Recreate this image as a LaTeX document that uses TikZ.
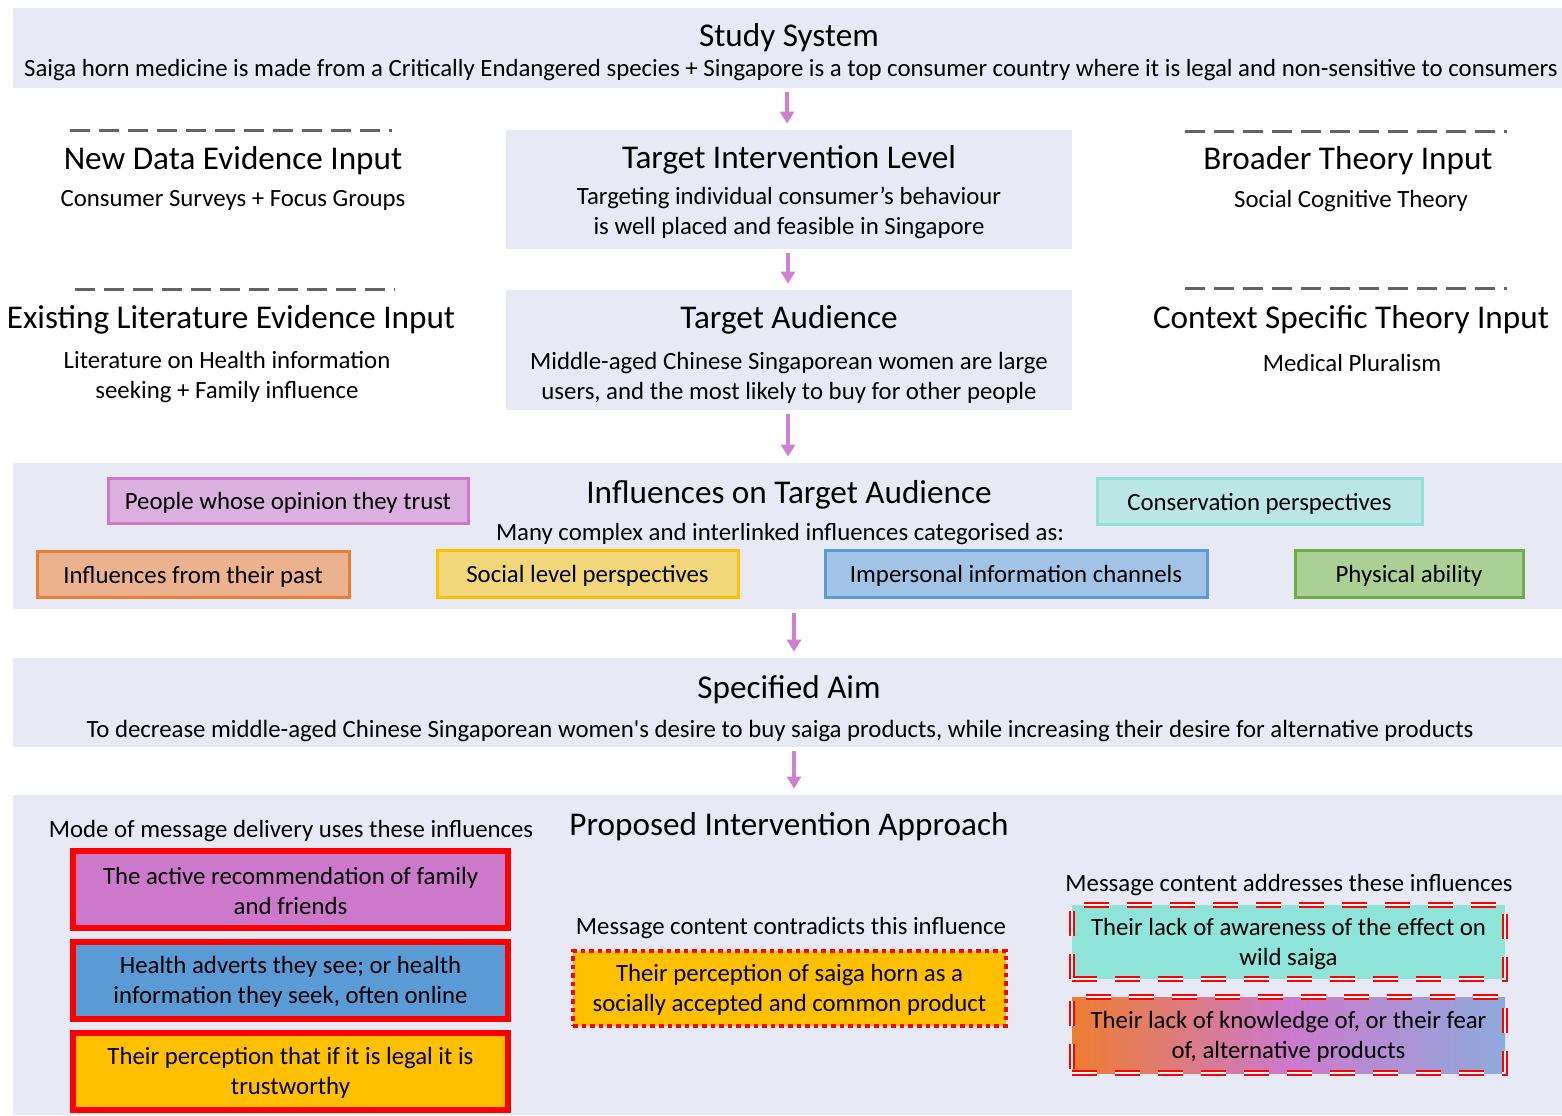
\documentclass[tikz,border=0pt]{standalone}
\usepackage{fontspec}
\setmainfont{Carlito}[Ligatures=TeXOff]
\usetikzlibrary{fit,arrows.meta}
\definecolor{bandfill}{RGB}{231,234,245}
\definecolor{arrowc}{RGB}{208,128,208}
\definecolor{dashg}{RGB}{100,100,100}
\definecolor{purpF}{RGB}{218,176,222}
\definecolor{purpD}{RGB}{204,121,204}
\definecolor{tealF}{RGB}{186,230,230}
\definecolor{tealD}{RGB}{143,224,214}
\definecolor{orF}{RGB}{235,178,144}
\definecolor{orD}{RGB}{237,125,49}
\definecolor{yeF}{RGB}{242,214,122}
\definecolor{yeD}{RGB}{255,192,0}
\definecolor{blF}{RGB}{160,195,230}
\definecolor{blD}{RGB}{91,155,213}
\definecolor{grF}{RGB}{170,208,150}
\definecolor{grD}{RGB}{112,173,71}
\definecolor{mintF}{RGB}{142,228,217}
\definecolor{periw}{RGB}{143,170,220}
\tikzset{
  band/.style={fill=bandfill, draw=none, inner sep=0pt},
  ttl/.style={font=\fontsize{16.6}{19}\selectfont, inner sep=0pt, align=center, yshift=-1pt},
  sub/.style={font=\fontsize{12.4}{15}\selectfont, inner sep=0pt, align=center, yshift=-1pt},
  btxt/.style={font=\fontsize{12.4}{15}\selectfont, inner sep=0pt, align=center, yshift=-0.8pt},
  itxt/.style={font=\fontsize{12.4}{15}\selectfont, inner sep=0pt, align=center, yshift=-1.4pt},
  arr/.style={draw=arrowc, line width=1.6pt, -{Triangle[width=7pt,length=6pt]}, shorten >=3pt, shorten <=2pt},
  dline/.style={draw=dashg, line width=1.5pt, dash pattern=on 10pt off 4.5pt},
  infl/.style={line width=1.5pt, inner sep=0pt},
  solidred/.style={draw=red, line width=2.7pt, inner sep=0pt},
  dotred/.style={draw=red, line width=2.4pt, dash pattern=on 2.3pt off 2pt, inner sep=0pt},
  dblred/.style={draw=red, line width=0.9pt, double=white, double distance=0.9pt, dash pattern=on 12.5pt off 9pt, inner sep=0pt},
}
\begin{document}
\begin{tikzpicture}[x=0.5pt,y=-0.5pt]
\useasboundingbox (0,0) rectangle (1562,1115);
% ---- top band
\node[band, fit={(13,8) (1562,88)}] (top) {};
\node[ttl] (studyT) at (789,36) {Study System};
\node[sub] (studyS) at (791,68) {Saiga horn medicine is made from a Critically Endangered species + Singapore is a top consumer country where it is legal and non-sensitive to consumers};
% ---- row 1
\coordinate (d1a) at (70,130); \coordinate (d1b) at (392,130);
\draw[dline] (d1a) -- (d1b);
\node[ttl] (newT) at (233,159) {New Data Evidence Input};
\node[sub] (newS) at (233,198) {Consumer Surveys + Focus Groups};
\node[band, fit={(506,130) (1072,249)}] (til) {};
\node[ttl] (tilT) at (789,158) {Target Intervention Level};
\node[sub] (tilS) at (789,211) {Targeting individual consumer’s behaviour\\is well placed and feasible in Singapore};
\coordinate (d2a) at (1185,131); \coordinate (d2b) at (1507,131);
\draw[dline] (d2a) -- (d2b);
\node[ttl] (broT) at (1348,159) {Broader Theory Input};
\node[sub] (broS) at (1351,199) {Social Cognitive Theory};
% ---- row 2
\coordinate (d3a) at (75,289); \coordinate (d3b) at (395,289);
\draw[dline] (d3a) -- (d3b);
\node[ttl] (litT) at (231,318) {Existing Literature Evidence Input};
\node[sub] (litS) at (227,375) {Literature on Health information\\seeking + Family influence};
\node[band, fit={(506,290) (1072,410)}] (ta) {};
\node[ttl] (taT) at (789,318) {Target Audience};
\node[sub] (taS) at (789,376) {Middle-aged Chinese Singaporean women are large\\users, and the most likely to buy for other people};
\coordinate (d4a) at (1185,288); \coordinate (d4b) at (1507,288);
\draw[dline] (d4a) -- (d4b);
\node[ttl] (ctxT) at (1351,318) {Context Specific Theory Input};
\node[sub] (ctxS) at (1352,361) {Medical Pluralism};
% ---- influences band
\node[band, fit={(13,463) (1562,609)}] (inf) {};
\node[ttl] (infT) at (789,493) {Influences on Target Audience};
\node[sub] (infS) at (780,532) {Many complex and interlinked influences categorised as:};
\node[infl, draw=purpD, fill=purpF, fit={(108,478) (468,523)}] (i1) {};
\node[itxt] (i1t) at (i1) {People whose opinion they trust};
\node[infl, draw=tealD, fill=tealF, fit={(1097,478) (1422,524)}] (i2) {};
\node[itxt] (i2t) at (i2) {Conservation perspectives};
\node[infl, draw=orD, fill=orF, fit={(37,551) (349,597)}] (i3) {};
\node[itxt] (i3t) at (i3) {Influences from their past};
\node[infl, draw=yeD, fill=yeF, fit={(437,550) (738,597)}] (i4) {};
\node[itxt] (i4t) at (i4) {Social level perspectives};
\node[infl, draw=blD, fill=blF, fit={(825,550) (1207,597)}] (i5) {};
\node[itxt] (i5t) at (i5) {Impersonal information channels};
\node[infl, draw=grD, fill=grF, fit={(1295,550) (1523,597)}] (i6) {};
\node[itxt] (i6t) at (i6) {Physical ability};
% ---- aim band
\node[band, fit={(13,658) (1562,747)}] (aim) {};
\node[ttl] (aimT) at (789,688) {Specified Aim};
\node[sub] (aimS) at (780,729) {To decrease middle-aged Chinese Singaporean women's desire to buy saiga products, while increasing their desire for alternative products};
% ---- bottom band
\node[band, fit={(13,795) (1562,1115)}] (app) {};
\node[ttl] (appT) at (789,825) {Proposed Intervention Approach};
\node[sub] (modeT) at (291,829) {Mode of message delivery uses these influences};
\node[solidred, fill=purpD, fit={(73,851) (508,928)}] (b1) {};
\node[btxt] (b1t) at (b1) {The active recommendation of family\\and friends};
\node[solidred, fill=blD, fit={(73,942) (508,1019)}] (b2) {};
\node[btxt] (b2t) at (b2) {Health adverts they see; or health\\information they seek, often online};
\node[solidred, fill=yeD, fit={(73,1033) (508,1110)}] (b3) {};
\node[btxt] (b3t) at (b3) {Their perception that if it is legal it is\\trustworthy};
\node[sub] (contT) at (791,926) {Message content contradicts this influence};
\node[dotred, fill=yeD, fit={(573,951) (1006,1026)}] (c1) {};
\node[btxt] (c1t) at (c1) {Their perception of saiga horn as a\\socially accepted and common product};
\node[sub] (addT) at (1289,883) {Message content addresses these influences};
\node[dblred, fill=mintF, fit={(1072,905) (1505,979)}] (a1) {};
\node[btxt] (a1t) at (a1) {Their lack of awareness of the effect on\\wild saiga};
\node[dblred, left color=orD, right color=periw, middle color=purpD, fit={(1072,997) (1505,1073)}] (a2) {};
\node[btxt] (a2t) at (a2) {Their lack of knowledge of, or their fear\\of, alternative products};
% ---- arrows
\draw[arr] (top.south -| 787,0) -- (til.north -| 787,0);
\draw[arr] (til.south -| 788,0) -- (ta.north -| 788,0);
\draw[arr] (ta.south -| 788,0) -- (inf.north -| 788,0);
\draw[arr] (inf.south -| 794,0) -- (aim.north -| 794,0);
\draw[arr] (aim.south -| 794,0) -- (app.north -| 794,0);
\end{tikzpicture}
\end{document}
